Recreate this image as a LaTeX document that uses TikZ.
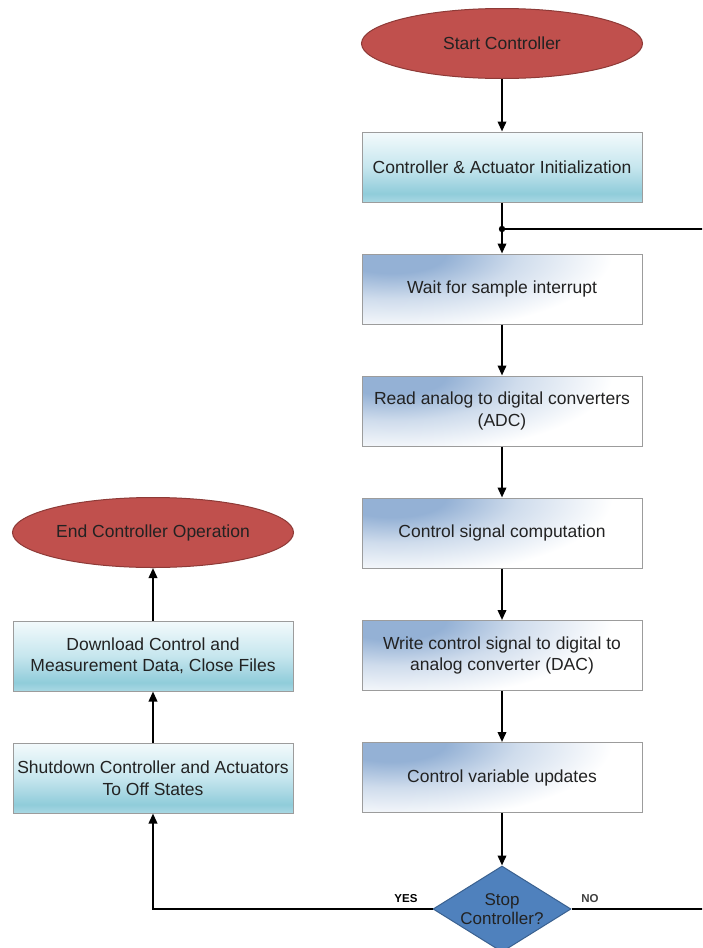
\documentclass[tikz,border=0pt]{standalone}
\usepackage{fontspec}
\setmainfont{Liberation Sans}
\usetikzlibrary{shapes.geometric,arrows.meta}

\definecolor{termred}{HTML}{C0504D}
\definecolor{termedge}{HTML}{8E3A37}
\definecolor{decblue}{HTML}{4F81BD}
\definecolor{decedge}{HTML}{3A6190}
\definecolor{stepblue}{HTML}{94B1D5}
\definecolor{cyTop}{HTML}{F3FAFC}
\definecolor{cyMid}{HTML}{C6E6EE}
\definecolor{cyDeep}{HTML}{90CCDA}
\definecolor{cyLow}{HTML}{A9D8E3}
\definecolor{boxedge}{HTML}{9C9C9C}
\definecolor{ink}{HTML}{222222}

% light cyan bar: pale at the top, deepest near the bottom
\pgfdeclareverticalshading{cyanbar}{100bp}{%
  color(0bp)=(cyLow); color(25bp)=(cyLow); color(31bp)=(cyDeep);
  color(50bp)=(cyMid); color(75bp)=(cyTop); color(100bp)=(cyTop)}
% blue glow spreading from the upper left corner (drawn on a large area,
% so only the inner part is visible inside a box)
\pgfdeclareradialshading{bluecorner}{\pgfpoint{0bp}{0bp}}{%
  color(0bp)=(stepblue); color(3bp)=(stepblue);
  color(7bp)=(stepblue!45); color(12.3bp)=(white); color(50bp)=(white)}

\tikzset{
  txt/.style={font=\fontsize{17.5}{21.5}\selectfont, text=ink, align=center},
  terminal/.style={txt, ellipse, fill=termred, draw=termedge, line width=1pt,
    minimum width=281pt, minimum height=70pt, inner sep=0pt},
  cyanbox/.style={txt, rectangle, shade, shading=cyanbar, draw=boxedge,
    line width=1pt, minimum width=280pt, minimum height=70pt, inner sep=2pt},
  bluebox/.style={txt, rectangle, fill=white, draw=boxedge, line width=1pt,
    minimum width=280pt, minimum height=70pt, inner sep=2pt,
    path picture={\shade[shading=bluecorner]
      ([xshift=-418pt,yshift=-160pt]path picture bounding box.north west)
      rectangle ([xshift=478pt,yshift=160pt]path picture bounding box.north west);}},
  decision/.style={diamond, fill=decblue, draw=decedge, line width=1pt,
    minimum width=138pt, minimum height=86pt, inner sep=0pt},
  flow/.style={draw=black, line width=2pt},
  arr/.style={flow, -{Triangle[length=10pt,width=8.5pt]}},
  tag/.style={font=\fontsize{11.5}{13}\selectfont\bfseries}
}

\begin{document}
\begin{tikzpicture}[x=1pt, y=-1pt]
  \clip (0,0) rectangle (702,948);
  \fill[white] (0,0) rectangle (702,948);

  % main loop column
  \node[terminal] (start) at (502,43.5) {Start Controller};
  \node[cyanbox]  (init)  at (502,167) {Controller \& Actuator Initialization};
  \node[bluebox]  (wait)  at (502,289) {Wait for sample interrupt};
  \node[bluebox]  (read)  at (502,411) {Read analog to digital converters\\(ADC)};
  \node[bluebox]  (comp)  at (502,533) {Control signal computation};
  \node[bluebox]  (write) at (502,655.5) {Write control signal to digital to\\analog converter (DAC)};
  \node[bluebox]  (upd)   at (502,777.5) {Control variable updates};
  \node[decision] (stop)  at (502,909) {};
  \node[txt, font=\fontsize{17}{19.5}\selectfont] at (stop) {Stop\\Controller?};

  % shutdown column
  \node[terminal] (endop) at (153,532.5) {End Controller Operation};
  \node[cyanbox]  (dl)    at (153,656) {Download Control and\\Measurement Data, Close Files};
  \node[cyanbox]  (shut)  at (153,778) {Shutdown Controller and Actuators\\To Off States};

  % loop return point and off-page ends
  \coordinate (j) at (502,229);
  \coordinate (loopin) at (704,229);
  \coordinate (noout) at (704,909);

  % connectors
  \draw[arr] (start) -- (init);
  \draw[arr] (init) -- (wait);
  \draw[flow] (j) -- (loopin);
  \fill (j) circle (3.2pt);
  \draw[arr] (wait) -- (read);
  \draw[arr] (read) -- (comp);
  \draw[arr] (comp) -- (write);
  \draw[arr] (write) -- (upd);
  \draw[arr] (upd) -- (stop);
  \draw[arr] (stop.west) -| (shut.south);
  \draw[flow] (stop.east) -- (noout);
  \draw[arr] (shut) -- (dl);
  \draw[arr] (dl) -- (endop);

  % branch labels
  \node[tag, text=black] at (406,899) {YES};
  \node[tag, text=black!75] at (590,899) {NO};
\end{tikzpicture}
\end{document}
